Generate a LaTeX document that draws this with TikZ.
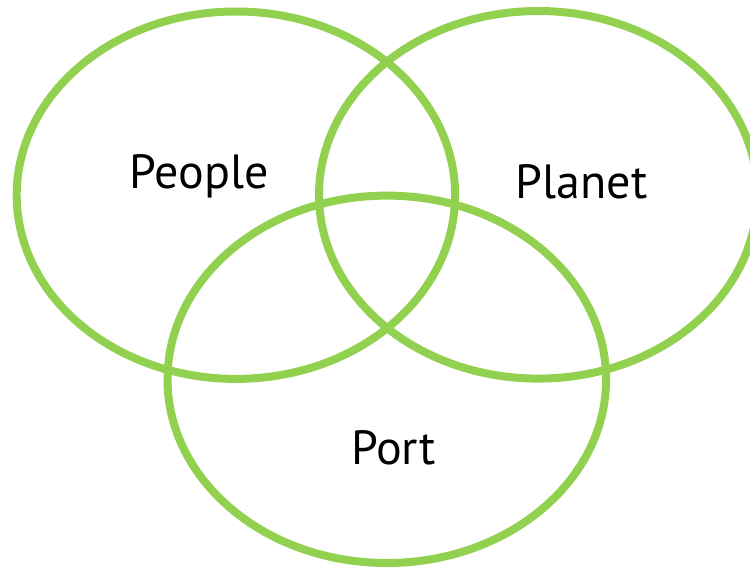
\documentclass[tikz,border=0pt]{standalone}
\usepackage{fontspec}
\setmainfont{PT Sans}
\definecolor{vgreen}{HTML}{92D050}
\begin{document}
\begin{tikzpicture}[x=1pt,y=-1pt,
  ring/.style={draw=vgreen,line width=8pt},
  lbl/.style={anchor=base,inner sep=0pt,font=\fontsize{48}{56}\selectfont}]
\useasboundingbox (0,0) rectangle (750,567);
\begin{scope}
\clip (0,0) rectangle (750,567);
\draw[ring] (235.9,195.2) ellipse [x radius=219.2, y radius=183.7];
\draw[ring] (538.2,194.8) ellipse [x radius=219.2, y radius=183.8];
\draw[ring] (386.8,379.3) ellipse [x radius=219.3, y radius=183.7];
\end{scope}
\node[lbl] (people) at (199,188.4) {People};
\node[lbl] (planet) at (581.6,198) {Planet};
\node[lbl] (port) at (393.5,464.7) {Port};
\end{tikzpicture}
\end{document}
